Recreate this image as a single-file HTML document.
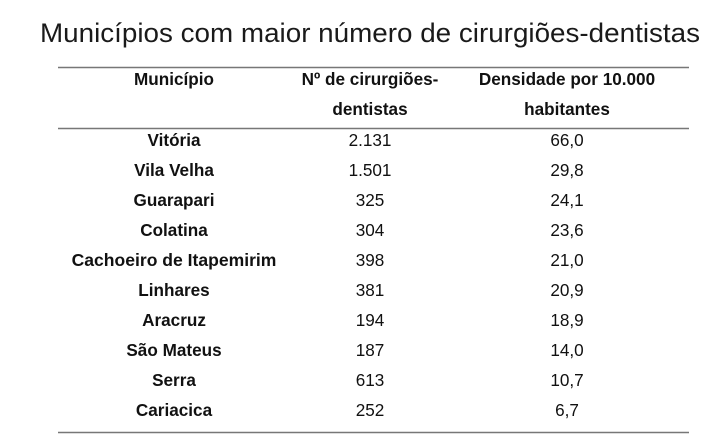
<!DOCTYPE html>
<html><head><meta charset="utf-8"><style>
html,body{margin:0;padding:0;background:#fff;width:709px;height:445px;overflow:hidden}
svg{display:block}
text{font-family:"Liberation Sans",sans-serif;fill:#111;text-anchor:middle}
.b{font-weight:bold;font-size:17.5px}
.r{font-size:17.5px}
</style></head><body>
<svg width="709" height="445" viewBox="0 0 709 445">
<text x="370" y="42" style="font-size:27px;fill:#1a1a1a" textLength="660" lengthAdjust="spacingAndGlyphs">Municípios com maior número de cirurgiões-dentistas</text>
<line x1="58" y1="67.5" x2="689" y2="67.5" stroke="#777" stroke-width="1.5"/>
<line x1="58" y1="128.5" x2="689" y2="128.5" stroke="#777" stroke-width="1.5"/>
<line x1="58" y1="432.5" x2="689" y2="432.5" stroke="#777" stroke-width="1.5"/>
<g transform="translate(174,0) scale(0.98,1)" class="b">
<text x="0" y="85">Município</text>
<text x="0" y="146">Vitória</text>
<text x="0" y="176">Vila Velha</text>
<text x="0" y="206">Guarapari</text>
<text x="0" y="236">Colatina</text>
<text x="0" y="266" textLength="209" lengthAdjust="spacingAndGlyphs">Cachoeiro de Itapemirim</text>
<text x="0" y="296">Linhares</text>
<text x="0" y="326">Aracruz</text>
<text x="0" y="356">São Mateus</text>
<text x="0" y="386">Serra</text>
<text x="0" y="416">Cariacica</text>
</g>
<g transform="translate(370,0) scale(0.98,1)">
<text class="b" x="0" y="85">Nº de cirurgiões-</text>
<text class="b" x="0" y="115">dentistas</text>
<text class="r" x="0" y="146">2.131</text>
<text class="r" x="0" y="176">1.501</text>
<text class="r" x="0" y="206">325</text>
<text class="r" x="0" y="236">304</text>
<text class="r" x="0" y="266">398</text>
<text class="r" x="0" y="296">381</text>
<text class="r" x="0" y="326">194</text>
<text class="r" x="0" y="356">187</text>
<text class="r" x="0" y="386">613</text>
<text class="r" x="0" y="416">252</text>
</g>
<g transform="translate(567,0) scale(0.98,1)">
<text class="b" x="0" y="85">Densidade por 10.000</text>
<text class="b" x="0" y="115">habitantes</text>
<text class="r" x="0" y="146">66,0</text>
<text class="r" x="0" y="176">29,8</text>
<text class="r" x="0" y="206">24,1</text>
<text class="r" x="0" y="236">23,6</text>
<text class="r" x="0" y="266">21,0</text>
<text class="r" x="0" y="296">20,9</text>
<text class="r" x="0" y="326">18,9</text>
<text class="r" x="0" y="356">14,0</text>
<text class="r" x="0" y="386">10,7</text>
<text class="r" x="0" y="416">6,7</text>
</g>
</svg>
</body></html>
